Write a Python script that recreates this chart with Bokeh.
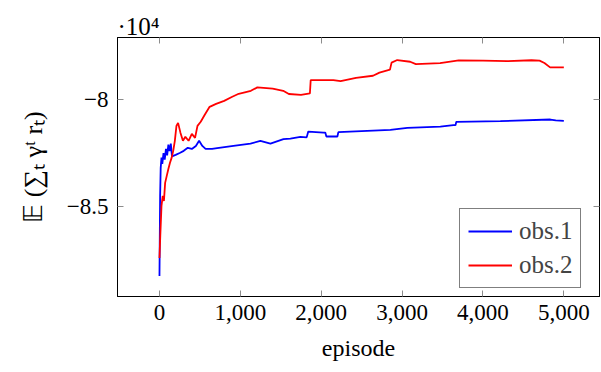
from bokeh.plotting import figure
from bokeh.models import (Range1d, LinearAxis, NumeralTickFormatter, FixedTicker,
                          Legend, LegendItem)
from bokeh.embed import file_html
from bokeh.resources import INLINE

# ---- data ----
obs1_ep = [0, 8, 15, 25, 35, 50, 65, 80, 95, 110, 125, 140, 155, 200, 250, 300, 350,
           400, 450, 490, 530, 570, 650, 713, 915, 1125, 1248, 1372, 1533, 1619, 1743,
           1820, 1840, 2027, 2050, 2064, 2200, 2212, 2855, 3065, 3473, 3634, 3660, 3671,
           4215, 4833, 4900, 5000]
obs1_val = [-88250, -84500, -83200, -82700, -83000, -82500, -82800, -82300, -82600,
            -82100, -82400, -82050, -82650, -82580, -82490, -82390, -82250, -82300,
            -82160, -81920, -82160, -82300, -82300, -82265, -82157, -82050, -81923,
            -82050, -81843, -81815, -81735, -81760, -81487, -81534, -81534, -81720,
            -81720, -81515, -81407, -81313, -81252, -81187, -81190, -81032, -81000,
            -80924, -80960, -80985]

obs2_ep = [0, 10, 25, 40, 55, 70, 90, 110, 130, 150, 170, 190, 210, 230, 260, 290, 320,
           360, 400, 440, 470, 510, 560, 620, 700, 800, 900, 980, 1130, 1210, 1400, 1530,
           1600, 1750, 1860, 1870, 2150, 2240, 2430, 2640, 2720, 2850, 2870, 2940, 3100,
           3170, 3470, 3700, 4000, 4300, 4600, 4700, 4760, 4830, 5000]
obs2_val = [-87410, -86380, -84970, -84500, -84740, -83890, -83560, -83240, -82950,
            -82720, -82390, -81920, -81220, -81080, -81550, -81920, -81735, -81920,
            -81595, -81780, -81220, -81030, -80700, -80330, -80190, -80050, -79860,
            -79720, -79580, -79420, -79480, -79580, -79730, -79770, -79705, -79076,
            -79076, -79130, -78970, -78875, -78730, -78590, -78260, -78140, -78220,
            -78330, -78280, -78160, -78170, -78195, -78150, -78170, -78280, -78485,
            -78485]

x_ticks = [0, 1000, 2000, 3000, 4000, 5000]
y_ticks = [-85000, -80000]
y_tick_labels = {-85000: "\u22128.5", -80000: "\u22128"}
series_names = ["obs.1", "obs.2"]
scale_text = "\u00B710\u2074"

FONT = "'Liberation Serif', 'Times New Roman', serif"

p = figure(output_backend="svg", toolbar_location=None,
           frame_width=482, frame_height=259,
           min_border_left=117, min_border_right=1, min_border_top=37, min_border_bottom=68,
           x_range=Range1d(-519, 5441), y_range=Range1d(-89208, -77085))
p.xgrid.visible = False
p.ygrid.visible = False
p.outline_line_color = "black"
p.outline_line_width = 1
p.background_fill_color = "white"
p.border_fill_color = "white"

# scale factor shown as title at the top-left of the frame
p.title.text = scale_text
p.title.align = "left"
p.title.text_font = FONT
p.title.text_font_size = "25px"
p.title.text_font_style = "normal"
p.title.text_color = "black"
p.title.standoff = -5
p.title.offset = 0

r1 = p.line(obs1_ep, obs1_val, line_color="#0000ff", line_width=1.8)
r2 = p.line(obs2_ep, obs2_val, line_color="#ff0000", line_width=1.8)

def style_axis(ax, labels=True):
    ax.axis_line_color = "black"
    ax.major_tick_line_color = "#8c8c8c"
    ax.major_tick_in = 6
    ax.major_tick_out = 0
    ax.minor_tick_line_color = None
    ax.major_label_text_font = FONT
    ax.major_label_text_color = "black"
    ax.axis_label_text_font = FONT
    ax.axis_label_text_font_style = "normal"
    ax.axis_label_text_color = "black"
    if not labels:
        ax.major_label_overrides = {t: "" for t in ax.ticker.ticks}
        ax.major_label_standoff = 0

xa = p.xaxis[0]
xa.ticker = FixedTicker(ticks=x_ticks)
xa.formatter = NumeralTickFormatter(format="0,0")
style_axis(xa)
xa.major_label_text_font_size = "23px"
xa.major_label_standoff = 8
xa.axis_label = "episode"
xa.axis_label_text_font_size = "24px"
xa.axis_label_standoff = 12

ya = p.yaxis[0]
ya.ticker = FixedTicker(ticks=y_ticks)
ya.major_label_overrides = y_tick_labels
style_axis(ya)
ya.major_label_text_font_size = "23px"
ya.major_label_standoff = 9
ya.axis_label = "\U0001D53C (\u2211\u209C \u03B3\u1D57 r\u209C)"
ya.axis_label_text_font_size = "26px"
ya.axis_label_standoff = 16

top = LinearAxis(ticker=FixedTicker(ticks=x_ticks))
style_axis(top, labels=False)
p.add_layout(top, "above")
right = LinearAxis(ticker=FixedTicker(ticks=y_ticks))
style_axis(right, labels=False)
p.add_layout(right, "right")

legend = Legend(items=[LegendItem(label=series_names[0], renderers=[r1]),
                       LegendItem(label=series_names[1], renderers=[r2])],
                location=(342, 8))
legend.border_line_color = "black"
legend.border_line_width = 1
legend.background_fill_color = "white"
legend.background_fill_alpha = 1
legend.label_text_font = FONT
legend.label_text_font_size = "25px"
legend.glyph_width = 44
legend.glyph_height = 28
legend.label_height = 28
legend.spacing = 6
legend.padding = 8
legend.margin = 0
legend.label_standoff = 7
p.add_layout(legend, "center")

open("out.html", "w").write(file_html(p, INLINE))
